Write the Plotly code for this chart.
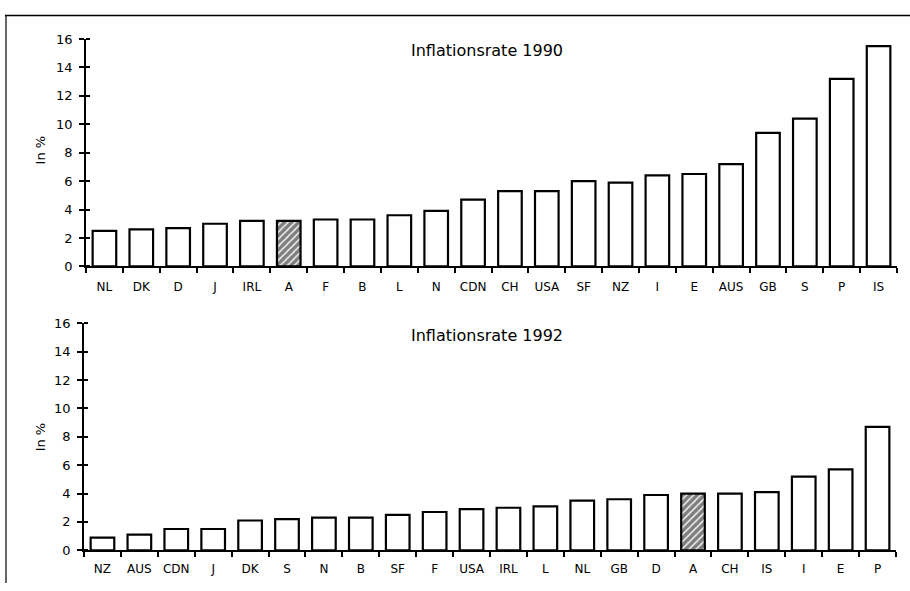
import plotly.graph_objects as go

countries_1990 = ["NL", "DK", "D", "J", "IRL", "A", "F", "B", "L", "N", "CDN",
                  "CH", "USA", "SF", "NZ", "I", "E", "AUS", "GB", "S", "P", "IS"]
rates_1990 = [2.5, 2.6, 2.7, 3.0, 3.2, 3.2, 3.3, 3.3, 3.6, 3.9, 4.7,
              5.3, 5.3, 6.0, 5.9, 6.4, 6.5, 7.2, 9.4, 10.4, 13.2, 15.5]

countries_1992 = ["NZ", "AUS", "CDN", "J", "DK", "S", "N", "B", "SF", "F", "USA",
                  "IRL", "L", "NL", "GB", "D", "A", "CH", "IS", "I", "E", "P"]
rates_1992 = [0.9, 1.1, 1.5, 1.5, 2.1, 2.2, 2.3, 2.3, 2.5, 2.7, 2.9,
              3.0, 3.1, 3.5, 3.6, 3.9, 4.0, 4.0, 4.1, 5.2, 5.7, 8.7]

y_ticks = [0, 2, 4, 6, 8, 10, 12, 14, 16]
titles = ["Inflationsrate 1990", "Inflationsrate 1992"]
y_title = "In %"
highlight = "A"

W, H = 910, 591
FONT = "DejaVu Sans, Verdana, sans-serif"


def px_x(p):
    return p / W


def px_y(p):
    # target screen pixel -> paper fraction (compensates the observed
    # vertical screenshot mapping y_screen = 0.975*y + 6.5)
    return 1 - ((p - 6.5) / 0.975) / H


fig = go.Figure()

for cats, vals, xa, ya in [(countries_1990, rates_1990, "x", "y"),
                           (countries_1992, rates_1992, "x2", "y2")]:
    shapes = ["/" if c == highlight else "" for c in cats]
    fig.add_trace(go.Bar(
        x=cats, y=vals, xaxis=xa, yaxis=ya, width=0.64,
        marker=dict(color="white", line=dict(color="black", width=2.2),
                    pattern=dict(shape=shapes, fgcolor="black", bgcolor="white",
                                 size=5, solidity=0.72)),
        showlegend=False, hoverinfo="x+y"))

axis_common_x = dict(type="category", showline=True, linecolor="black", linewidth=1.8,
                     ticks="outside", ticklen=5, tickwidth=1.5, tickcolor="black",
                     tickson="boundaries", showgrid=False, zeroline=False,
                     range=[-0.5, 21.5],
                     tickfont=dict(family=FONT, size=12, color="black"))
axis_common_y = dict(range=[0, 16], tickvals=y_ticks, showline=True, linecolor="black",
                     linewidth=1.8, ticks="outside", ticklen=5, tickwidth=1.5,
                     tickcolor="black", showgrid=False, zeroline=False,
                     ticklabelstandoff=4,
                     minor=dict(ticks="inside", tickvals=y_ticks, ticklen=4,
                                tickwidth=1.5, tickcolor="black", showgrid=False),
                     tickfont=dict(family=FONT, size=13, color="black"))

fig.update_layout(
    width=W, height=H, margin=dict(l=0, r=0, t=0, b=0),
    paper_bgcolor="white", plot_bgcolor="white", bargap=0.36,
    xaxis=dict(domain=[px_x(86), px_x(897)], anchor="y", ticklabelstandoff=8,
               **axis_common_x),
    yaxis=dict(domain=[px_y(266), px_y(38.5)], anchor="x", **axis_common_y),
    xaxis2=dict(domain=[px_x(84), px_x(896)], anchor="y2", ticklabelstandoff=6,
                **axis_common_x),
    yaxis2=dict(domain=[px_y(550), px_y(323)], anchor="x2", **axis_common_y),
)

annotations = []
for t, yc in zip(titles, [50, 335]):
    annotations.append(dict(text=t, x=px_x(487), y=px_y(yc), xref="paper", yref="paper",
                            xanchor="center", yanchor="middle",
                            showarrow=False, font=dict(family=FONT, size=16, color="black")))
for yc in [150, 437]:
    annotations.append(dict(text=y_title, x=px_x(40), y=px_y(yc), xref="paper", yref="paper",
                            xanchor="center", yanchor="middle",
                            showarrow=False, textangle=-90,
                            font=dict(family=FONT, size=13, color="black")))
fig.update_layout(annotations=annotations)

# scanned page frame lines
fig.add_shape(type="line", xref="paper", yref="paper", x0=px_x(5), x1=1,
              y0=px_y(15), y1=px_y(15), line=dict(color="black", width=1.5))
fig.add_shape(type="line", xref="paper", yref="paper", x0=px_x(6), x1=px_x(6),
              y0=px_y(15), y1=0, line=dict(color="black", width=1.2))

post = (
    "document.documentElement.style.margin='0';"
    "document.documentElement.style.overflow='hidden';"
    "document.body.style.margin='0';"
    "document.body.style.padding='0';"
    "document.body.style.overflow='hidden';"
)

fig.write_html("out.html", config={"displayModeBar": False},
               post_script=post)
